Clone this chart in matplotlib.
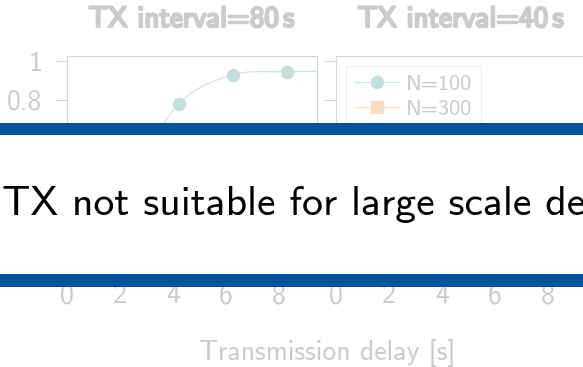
import numpy as np
import matplotlib.pyplot as plt
import matplotlib.patheffects as pe
from matplotlib.patches import Rectangle

# transmission delay [s] and delivery ratio for each TX interval
delays = [0.18, 2.22, 4.24, 6.28, 8.31, 10.35]
ratio_80_n100 = [0.05, 0.36, 0.78, 0.93, 0.946, 0.948]
ratio_80_n300 = [0.02, 0.10, 0.24, 0.38, 0.45, 0.48]
ratio_40_n100 = [0.03, 0.18, 0.42, 0.55, 0.60, 0.61]
ratio_40_n300 = [0.01, 0.04, 0.10, 0.16, 0.19, 0.20]

titles = ["TX interval=80$\\,$s", "TX interval=40$\\,$s"]
series_labels = ["N=100", "N=300"]
xticks = [0, 2, 4, 6, 8]
yticks = [0, 0.2, 0.4, 0.6, 0.8, 1]
ytick_labels = ["0", "0.2", "0.4", "0.6", "0.8", "1"]
message = "TX not suitable for large scale deployments"

faded = "#cbcbcb"
spine_col = "#d6d6d6"
teal_line, teal_mark = "#cfe5e2", "#c6dedb"
orange_line, orange_mark = "#fde4cf", "#fadcc2"
band_blue = "#00539f"

plt.rcParams["font.family"] = ["cmss10", "DejaVu Sans"]
plt.rcParams["mathtext.fontset"] = "cm"


def smooth(x, y, n=40):
    # catmull-rom through the points, drawn as cubic bezier pieces
    pts = np.column_stack([x, y]).astype(float)
    ext = np.vstack([pts[0], pts, pts[-1]])
    t = np.linspace(0, 1, n)[:, None]
    out = []
    for i in range(1, len(ext) - 2):
        p0, p1, p2, p3 = ext[i - 1], ext[i], ext[i + 1], ext[i + 2]
        c1 = p1 + (p2 - p0) / 6
        c2 = p2 - (p3 - p1) / 6
        seg = ((1 - t) ** 3) * p1 + 3 * ((1 - t) ** 2) * t * c1 + 3 * (1 - t) * t ** 2 * c2 + t ** 3 * p2
        out.append(seg)
    out = np.vstack(out)
    return out[:, 0], out[:, 1]


fig = plt.figure(figsize=(5.83, 3.67), dpi=100)
ax1 = fig.add_axes([0.1144, 0.2951, 0.4298, 0.5531])
ax2 = fig.add_axes([0.5763, 0.2951, 0.4298, 0.5531])

panels = [
    (ax1, ratio_80_n100, ratio_80_n300),
    (ax2, ratio_40_n100, ratio_40_n300),
]

for i, (ax, n100, n300) in enumerate(panels):
    for vals, lc, mc, mk, lab in [
        (n100, teal_line, teal_mark, "o", series_labels[0]),
        (n300, orange_line, orange_mark, "s", series_labels[1]),
    ]:
        sx, sy = smooth(delays, vals)
        ax.plot(sx, sy, color=lc, lw=0.9, zorder=2)
        ax.plot(delays, vals, ls="none", marker=mk, ms=8.7, color=mc, zorder=3)
        ax.plot([], [], color=lc, lw=0.9, marker=mk, ms=8.7, mfc=mc, mec=mc, label=lab)

    ax.set_xlim(0, 9.45)
    ax.set_ylim(-0.03, 1.03)
    ax.set_xticks(xticks)
    ax.set_xticklabels([str(v) for v in xticks])
    ax.set_yticks(yticks)
    if i == 0:
        ax.set_yticklabels(ytick_labels)
    else:
        ax.set_yticklabels([])
    ax.tick_params(colors=spine_col, labelcolor=faded, labelsize=20,
                   length=8.5, width=0.8, pad=9, direction="out",
                   top=False, right=False)
    for s in ax.spines.values():
        s.set_color(spine_col)
        s.set_linewidth(0.8)
    t = ax.set_title(titles[i], fontsize=21, color=faded, pad=20.7)
    t.set_path_effects([pe.withStroke(linewidth=1.7, foreground=faded)])

leg = ax2.legend(loc="upper left", fontsize=16, frameon=True, fancybox=False,
                 borderaxespad=0.45, borderpad=0.4, handlelength=2.0,
                 handletextpad=0.3, labelspacing=0.25, labelcolor=faded)
leg.get_frame().set_edgecolor("#ececec")
leg.get_frame().set_linewidth(0.8)

fig.text(0.561, 1 - 360 / 367, "Transmission delay [s]", ha="center",
         va="baseline", fontsize=20, color=faded)

# overlay band with the message
for y0, h in [(367 - 135, 12), (367 - 287, 13)]:
    fig.add_artist(Rectangle((0, y0 / 367), 1, h / 367, transform=fig.transFigure,
                             color=band_blue, lw=0, zorder=10))
fig.add_artist(Rectangle((0, (367 - 274) / 367), 1, 139 / 367, transform=fig.transFigure,
                         color="white", lw=0, zorder=10))
fig.text(0.004, 1 - 215 / 367, message, ha="left", va="baseline", fontsize=30,
         color="black", zorder=11)

fig.savefig("out.png", dpi=100)
